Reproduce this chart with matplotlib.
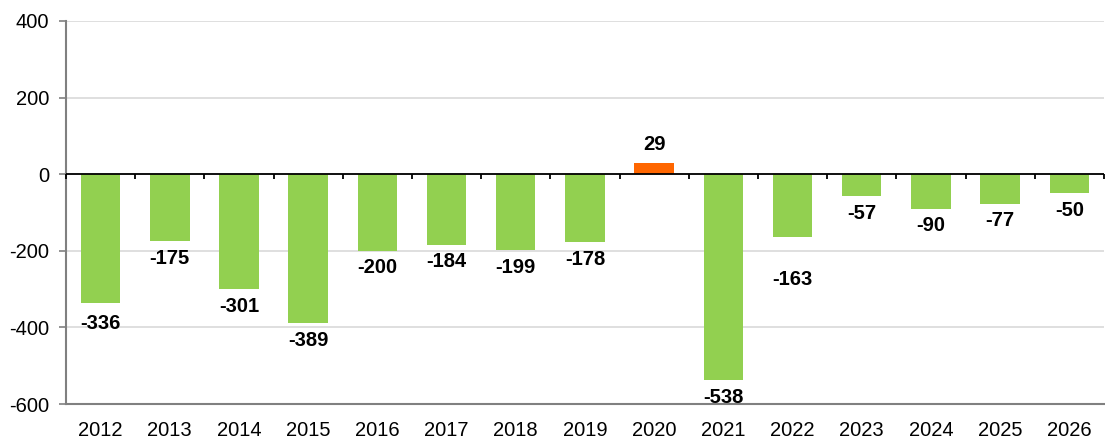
import matplotlib
matplotlib.use("Agg")
import matplotlib.pyplot as plt
import numpy as np

years = ["2012", "2013", "2014", "2015", "2016", "2017", "2018", "2019",
         "2020", "2021", "2022", "2023", "2024", "2025", "2026"]
values = [-336, -175, -301, -389, -200, -184, -199, -178,
          29, -538, -163, -57, -90, -77, -50]
yticks = [-600, -400, -200, 0, 200, 400]

plt.rcParams['font.family'] = ['Liberation Sans', 'DejaVu Sans']

GREEN = "#92D050"
ORANGE = "#FF6600"

fig = plt.figure(figsize=(11.05, 4.38), dpi=100)
ax = fig.add_axes([66/1105, 1-404/438, 1-66/1105 - 0.001, (404-21)/438])

x = np.arange(len(years))
colors = [ORANGE if v > 0 else GREEN for v in values]
ax.bar(x, values, width=0.57, color=colors, zorder=3)

ax.set_xlim(-0.5, len(years) - 0.5)
ax.set_ylim(-600, 400)
ax.set_yticks(yticks)
ax.set_yticklabels([str(t) for t in yticks], fontsize=14.5)
ax.set_xticks(x)
ax.set_xticklabels(years, fontsize=14.5)
ax.tick_params(axis='x', length=0, pad=12)
ax.tick_params(axis='y', length=5, color='#808080', width=1.2, pad=7)

ax.grid(axis='y', color='#D9D9D9', linewidth=1.2, zorder=0)
ax.set_axisbelow(True)
for s in ['top', 'right']:
    ax.spines[s].set_visible(False)
ax.spines['left'].set_color('#808080')
ax.spines['left'].set_linewidth(1.5)
ax.spines['bottom'].set_color('#808080')
ax.spines['bottom'].set_linewidth(1.5)

# zero line with category-boundary ticks
ax.axhline(0, color='black', linewidth=1.3, zorder=4)
bounds = np.arange(len(years) + 1) - 0.5
ax.vlines(bounds, -13, 0, color='black', linewidth=1.3, zorder=4, clip_on=False)

# data labels
extra_px = {0: 4, 10: 26}
for i, v in enumerate(values):
    if v >= 0:
        off = 19
    else:
        off = -(17 + extra_px.get(i, 0))
    ax.annotate(str(v), (i, v), xytext=(0, off * 0.72), textcoords='offset points',
                ha='center', va='center', fontsize=14.5, fontweight='bold', zorder=5)

fig.savefig("out.png", dpi=100)
